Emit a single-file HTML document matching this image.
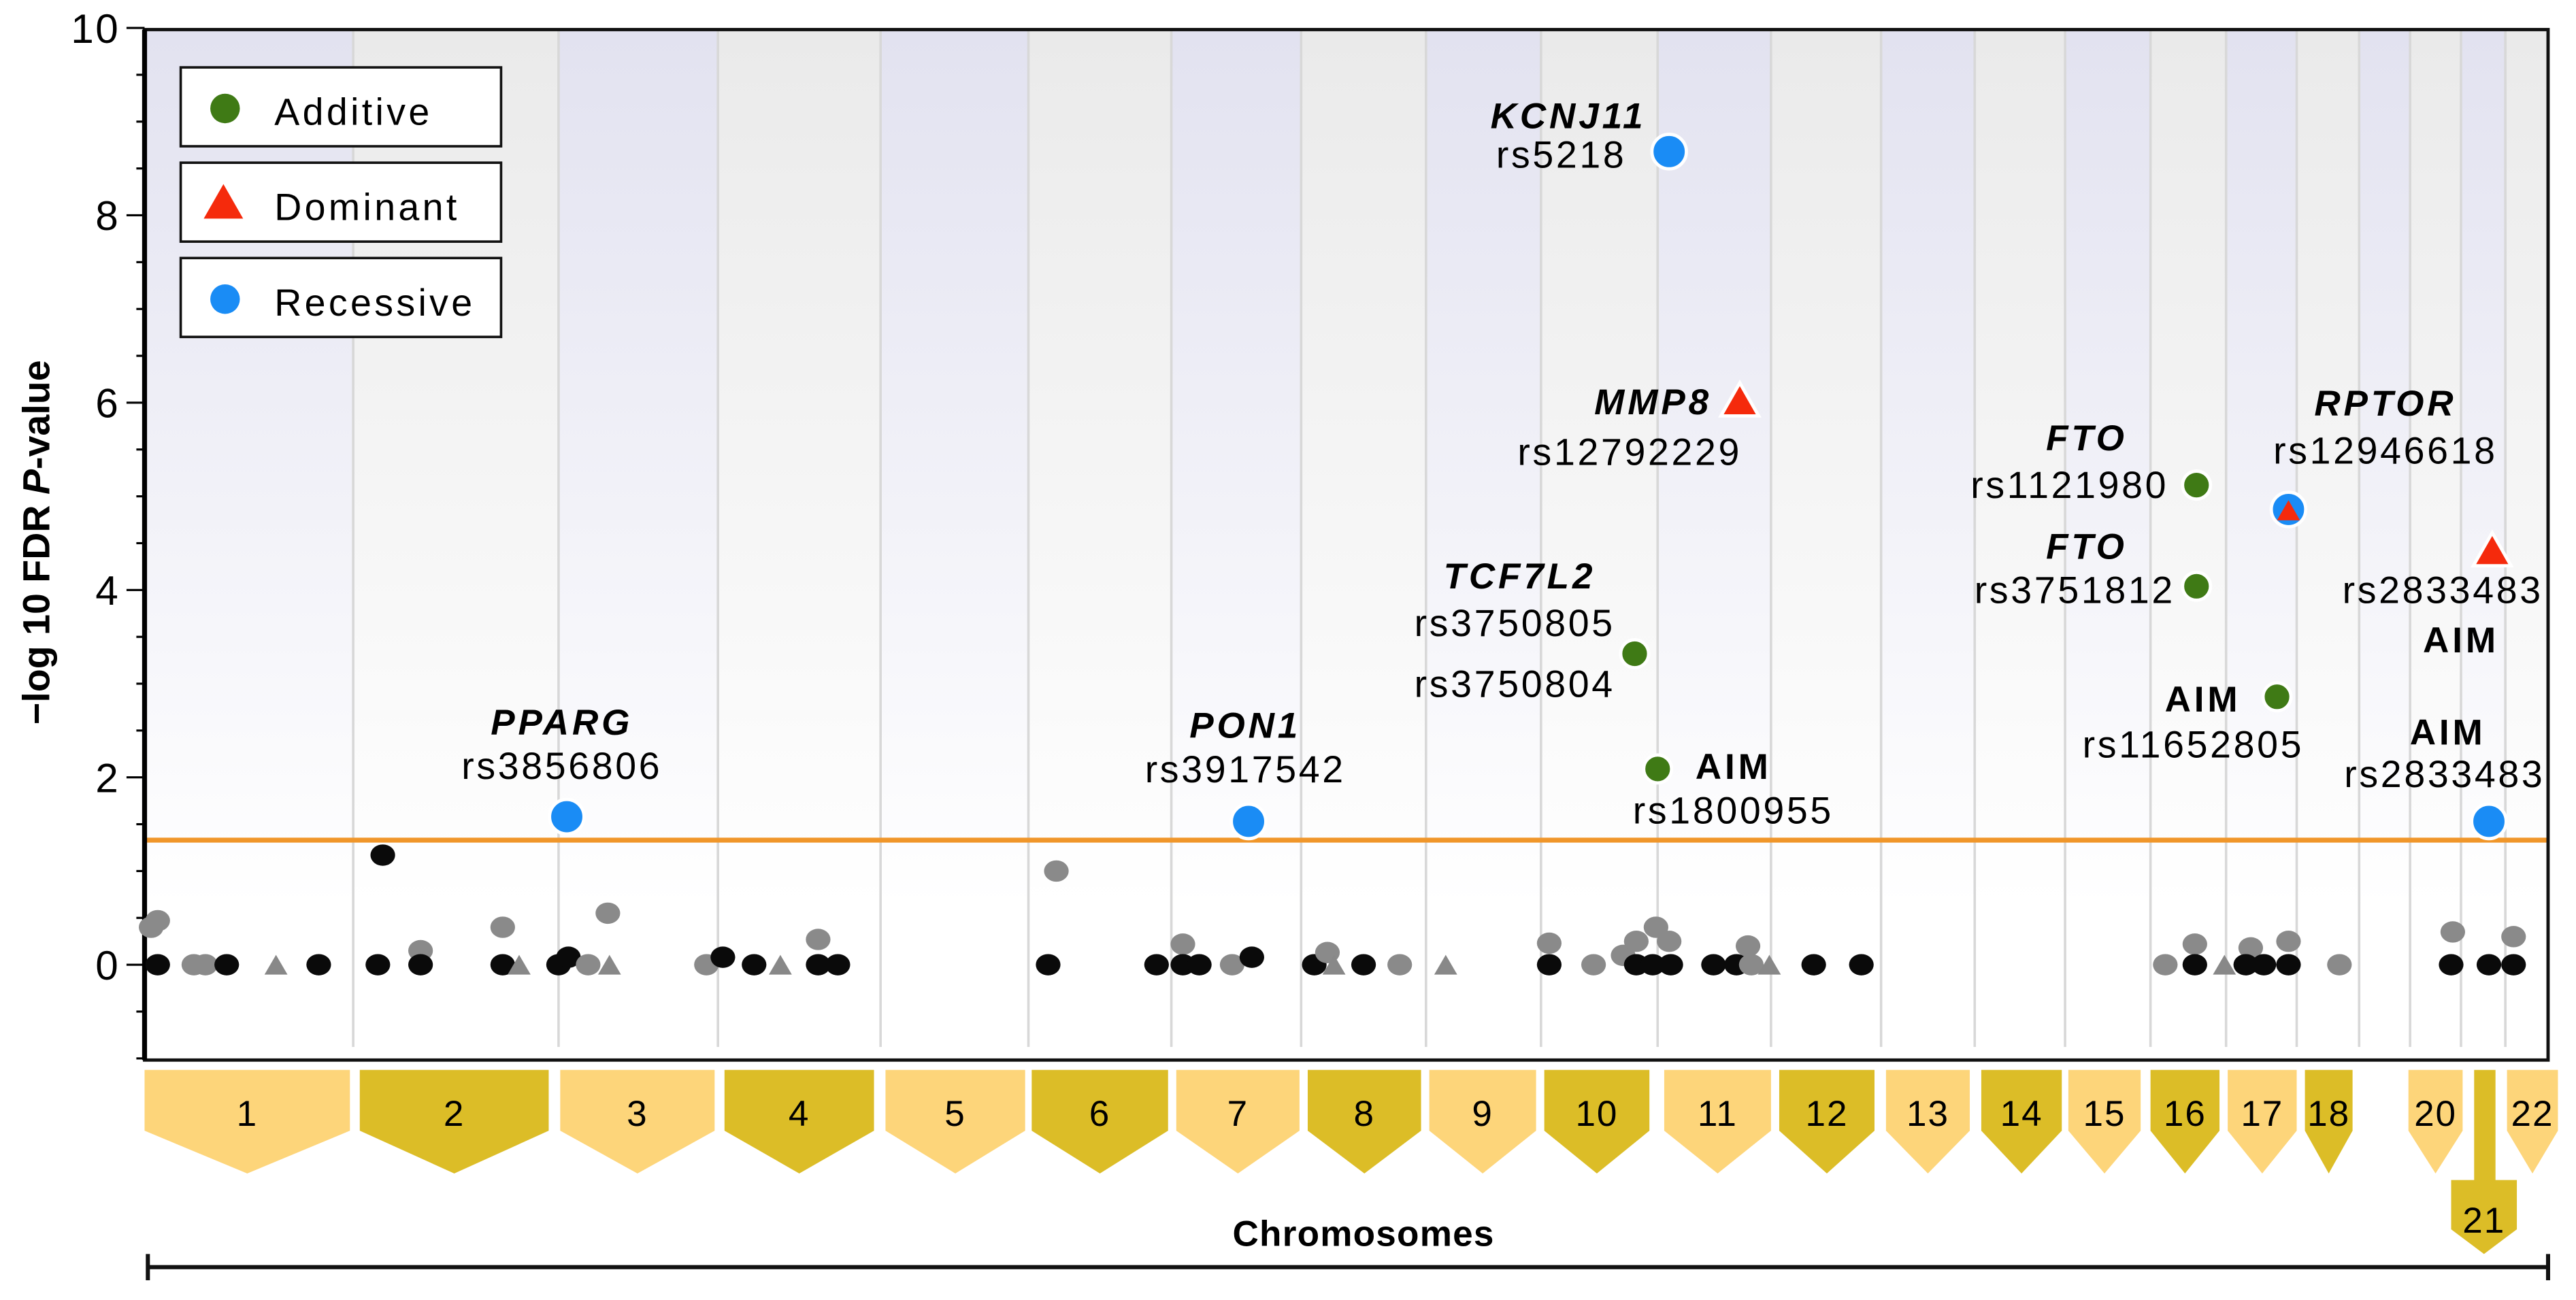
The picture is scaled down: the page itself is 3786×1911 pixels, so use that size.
<!DOCTYPE html>
<html><head><meta charset="utf-8"><style>
html,body{margin:0;padding:0;background:#fff}
svg{display:block}
text{font-family:"Liberation Sans",Arial,sans-serif}
</style></head><body>
<svg id="chart" width="3786" height="1911" viewBox="0 0 1568 791" preserveAspectRatio="none" xmlns="http://www.w3.org/2000/svg">
<defs>
<linearGradient id="gLav" x1="0" y1="0" x2="0" y2="1"><stop offset="0" stop-color="#e2e2f0"/><stop offset="0.85" stop-color="#ffffff"/></linearGradient>
<linearGradient id="gGray" x1="0" y1="0" x2="0" y2="1"><stop offset="0" stop-color="#eaeaea"/><stop offset="0.85" stop-color="#ffffff"/></linearGradient>
</defs>
<g id="bands"></g>
<g id="axes"></g>
<g id="points"></g>
<g id="sig"></g>
<g id="chroms"></g>
<g id="legend"></g>
</svg>
<script>
const chromNames=["1","2","3","4","5","6","7","8","9","10","11","12","13","14","15","16","17","18","19","20","21","22"];
const chromLens=[127,125,97,99,90,87,79,76,70,71,69,67,57,55,52,46,43,38,31,31,27,26];
const yTicks=[0,2,4,6,8,10];
const threshold=1.33;
const bgPos=[8,4,8,30,37,50,80,106,145,142,168,168,218,218,228,252,258,270,282,283,342,352,371,387,410,410,422,555,550,616,632,632,642,662,674,712,720,724,742,764,792,855,855,882,900,908,920,928,908,918,929,955,969,976,978,989,1016,1045,1230,1248,1248,1266,1282,1279,1290,1305,1305,1336,1405,1404,1427,1442,1442];
const bgVal=[0.47,0.4,0,0,0,0,0,0,1.17,0,0.15,0,0.4,0,0,0,0.08,0,0.55,0,0,0.08,0,0,0.27,0,0,1.0,0,0,0.22,0,0,0,0.08,0,0.13,0,0,0,0,0.23,0,0,0.1,0.25,0.4,0.25,0,0,0,0,0,0.2,0,0,0,0,0,0.22,0,0,0.18,0,0,0.25,0,0,0.35,0,0,0.3,0];
const bgKind=["g","g","k","g","g","k","t","k","k","k","g","k","g","k","t","k","k","g","g","t","g","k","k","t","g","k","k","g","k","k","g","k","k","g","k","k","g","t","k","g","t","g","k","g","g","g","g","g","k","k","k","k","k","g","g","t","k","k","g","g","k","t","g","k","k","g","k","g","g","k","k","g","k"];
const sigPos=[928,971,907,921,257,672,1249,1249,1298,1305,1429,1427];
const sigVal=[8.68,6.02,3.32,2.09,1.58,1.53,5.12,4.04,2.86,4.86,4.42,1.53];
const sigModel=["rec","dom","add","add","rec","rec","add","add","add","recdom","dom","rec"];

const X0=88,X1=1551,YT=18,YB=645;
const gStart=[];let acc=0;chromLens.forEach(l=>{gStart.push(acc);acc+=l;});
const gTotal=acc;
const xs=g=>X0+g/gTotal*(X1-X0);
const ys=v=>587-v*57;
const NS="http://www.w3.org/2000/svg";
function mk(tag,parent,attrs){const e=document.createElementNS(NS,tag);for(const k in attrs)e.setAttribute(k,attrs[k]);parent.appendChild(e);return e;}
const bands=document.getElementById('bands'),axes=document.getElementById('axes'),pts=document.getElementById('points'),sig=document.getElementById('sig'),chroms=document.getElementById('chroms'),leg=document.getElementById('legend');

chromNames.forEach((n,i)=>{
  const b=mk('rect',bands,{x:xs(gStart[i]),y:YT,width:xs(gStart[i]+chromLens[i])-xs(gStart[i]),height:YB-YT,fill:i%2?'url(#gGray)':'url(#gLav)'});
  
  
  if(i>0){const l=mk('line',bands,{x1:xs(gStart[i]),x2:xs(gStart[i]),y1:YT,y2:YB-8,stroke:'#d8d8d8','stroke-width':1.5});
  
  }
});
const th=mk('line',axes,{x1:X0,x2:X1,y1:ys(threshold),y2:ys(threshold),stroke:'#f0962a','stroke-width':3});


const fr=mk('rect',axes,{x:X0,y:YT,width:X1-X0,height:YB-YT,fill:'none',stroke:'#111','stroke-width':2});


const ya=mk('line',axes,{x1:X0,x2:X0,y1:YT,y2:YB,stroke:'#000','stroke-width':3});


for(let v=-1;v<=10;v+=0.5){const major=yTicks.includes(v);
  const t=mk('line',axes,{x1:X0-(major?11:5),x2:X0,y1:ys(v),y2:ys(v),stroke:'#000','stroke-width':1.3});
  
  }
yTicks.forEach(v=>{const t=mk('text',axes,{x:73,y:ys(v)+9,'text-anchor':'end','font-size':25,'letter-spacing':1,fill:'#000'});t.textContent=v;
  
  });
const yt=mk('text',axes,{transform:'translate(30,330) rotate(-90)','text-anchor':'middle','font-size':23,'font-weight':'bold'});
yt.innerHTML='−log 10 FDR <tspan font-style="italic">P</tspan>-value';



bgPos.forEach((p,i)=>{
  const x=xs(p),y=ys(bgVal[i]);let e;
  if(bgKind[i]==='t'){e=mk('polygon',pts,{points:`${x-7},${y+6} ${x+7},${y+6} ${x},${y-6}`,fill:'#888'});}
  else e=mk('ellipse',pts,{cx:x,cy:y,rx:7.5,ry:6.5,fill:bgKind[i]==='k'?'#0a0a0a':'#8a8a8a'});
  
  
});
function circ(par,x,y,r,c){return mk('circle',par,{cx:x,cy:y,r:r,fill:c,stroke:'#fff','stroke-width':2});}
function tri(par,x,y,s,c){return mk('polygon',par,{points:`${x-s},${y+s*0.8} ${x+s},${y+s*0.8} ${x},${y-s*0.95}`,fill:c,stroke:'#fff','stroke-width':2});}
sigPos.forEach((p,i)=>{
  const x=xs(p),y=ys(sigVal[i]),m=sigModel[i];let e;
  if(m==='rec'){e=circ(sig,x,y,10.5,'#1a8cf5');}
  else if(m==='add'){e=circ(sig,x,y,8.5,'#3f7a15');}
  else if(m==='dom'){e=tri(sig,x,y,11.5,'#f52a0c');}
  else {e=circ(sig,x,y,10.5,'#1a8cf5');const e2=tri(sig,x,y+1,7,'#f52a0c');e2.setAttribute('stroke-width',0);}
  
  
});
const labels=[["KCNJ11",1002,78,"end","bi"],["rs5218",990,102,"end","n"],["MMP8",1042,252,"end","bi"],["rs12792229",992,283,"middle","n"],
["TCF7L2",925,358,"middle","bi"],["rs3750805",922,387,"middle","n"],["rs3750804",922,424,"middle","n"],["AIM",1032,474,"start","b"],["rs1800955",1055,501,"middle","n"],
["PPARG",342,447,"middle","bi"],["rs3856806",342,474,"middle","n"],["PON1",758,449,"middle","bi"],["rs3917542",758,476,"middle","n"],
["FTO",1295,274,"end","bi"],["rs1121980",1320,303,"end","n"],["FTO",1295,340,"end","bi"],["rs3751812",1324,367,"end","n"],["AIM",1364,433,"end","b"],["rs11652805",1335,461,"middle","n"],
["RPTOR",1452,253,"middle","bi"],["rs12946618",1452,282,"middle","n"],["rs2833483",1548,367,"end","n"],["AIM",1498,397,"middle","b"],["AIM",1490,453,"middle","b"],["rs2833483",1488,479,"middle","n"]];
labels.forEach(l=>{const nrm=l[4]==='n';const t=mk('text',sig,{x:l[1],y:l[2],'text-anchor':l[3],'font-size':nrm?23:22,'letter-spacing':nrm?1.5:2,'font-weight':nrm?'normal':'bold','font-style':l[4]==='bi'?'italic':'normal',fill:'#000'});t.textContent=l[0];
  
  });

const boxes=[[88,213],[219,334],[341,435],[441,532],[539,624],[628,711],[716,791],[796,865],[870,935],[940,1004],[1013,1078],[1083,1141],[1148,1199],[1206,1255],[1259,1303],[1309,1351],[1356,1398],[1403,1432],null,[1466,1499],[1492,1532],[1526,1557]];
chromNames.forEach((n,i)=>{const b=boxes[i];if(!b)return;
  const vi=i>18?i-1:i;
  const col=vi%2?'#dcbd27':'#fdd57a';const c=(b[0]+b[1])/2;const g=mk('g',chroms,{});
  
  
  let ty=677;
  if(n==='21'){mk('rect',g,{x:1506,y:651,width:13,height:70,fill:col});
    mk('polygon',g,{points:`${b[0]},718 ${b[1]},718 ${b[1]},748 ${c},763 ${b[0]},748`,fill:col});ty=742;}
  else{mk('polygon',g,{points:`${b[0]},651 ${b[1]},651 ${b[1]},688 ${c},714 ${b[0]},688`,fill:col});}
  const t=mk('text',g,{x:c,y:ty+8,'text-anchor':'middle','font-size':22,'letter-spacing':0.8,fill:'#000'});t.textContent=n;});
const xt=mk('text',chroms,{x:830,y:758,'text-anchor':'middle','font-size':22,'letter-spacing':0.5,'font-weight':'bold'});xt.textContent='Chromosomes';


const br=mk('path',chroms,{d:'M90,771 H1551 M90,763 V779 M1551,763 V779',stroke:'#111','stroke-width':2.5,fill:'none'});



[["Additive","add",41],["Dominant","dom",99],["Recessive","rec",157]].forEach(d=>{
  const g=mk('g',leg,{});
  
  
  mk('rect',g,{x:110,y:d[2],width:195,height:48,fill:'#fff',stroke:'#111','stroke-width':1.5});
  const cy=d[2]+25;
  if(d[1]==='dom')mk('polygon',g,{points:`124,${cy+9} 148,${cy+9} 136,${cy-12}`,fill:'#f52a0c'});
  else mk('circle',g,{cx:137,cy:cy,r:9,fill:d[1]==='add'?'#3f7a15':'#1a8cf5'});
  const t=mk('text',g,{x:167,y:cy+10,'font-size':23,'letter-spacing':1.8});t.textContent=d[0];
});
</script>
</body></html>
